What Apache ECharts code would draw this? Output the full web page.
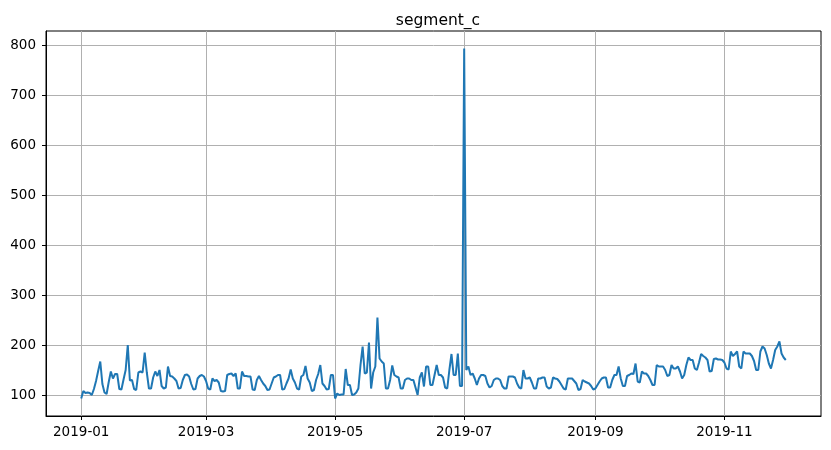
<!DOCTYPE html>
<html>
<head>
<meta charset="utf-8">
<script src="https://cdn.jsdelivr.net/npm/echarts@6/dist/echarts.min.js"></script>
<style>html,body{margin:0;padding:0;background:#fff}#c{width:831px;height:450px}</style>
</head>
<body>
<div id="c"></div>
<script>
// daily values, 2019-01-01 .. 2019-11-30
var jan = [93,108,104,105,104,100,112,128,148,167,122,105,102,126,147,133,142,142,112,111,131,150,200,129,130,112,110,145,147,145,185];
var feb = [145,113,113,135,147,138,150,118,113,115,157,138,137,133,128,113,114,130,140,141,137,122,111,112,133,138,140,137];
var mar = [128,113,111,133,128,130,125,108,107,108,140,142,143,138,143,113,113,147,138,138,137,137,111,110,130,138,130,123,118,110,111];
var apr = [123,135,137,140,140,111,112,123,133,151,133,125,113,111,137,140,158,133,125,108,110,130,142,160,123,118,111,112,140,140];
var may = [93,103,100,101,101,152,120,120,100,101,105,113,160,197,143,145,205,113,145,157,255,173,167,163,113,113,130,159,140,137,135];
var jun = [113,113,130,133,133,130,130,115,100,135,145,117,157,157,120,120,140,160,140,140,135,115,113,150,182,140,140,183,118,118];
var jul = [793,150,157,140,143,133,120,133,140,140,138,123,115,118,130,133,133,130,118,113,113,137,137,137,135,123,115,113,150,133,133];
var aug = [135,125,113,113,133,133,135,135,117,113,115,135,133,132,127,120,113,111,133,133,133,128,123,110,112,130,127,125,123,118,111];
var sep = [113,120,127,133,135,135,115,115,130,140,140,157,133,118,118,138,140,143,142,163,127,125,147,143,143,138,130,120,120,160];
var oct = [157,157,157,150,138,140,160,153,153,157,147,133,140,160,175,170,170,153,150,165,182,178,175,170,147,148,172,173,171,171,170];
var nov = [165,153,151,187,178,182,187,157,153,187,183,183,183,178,168,150,150,187,197,193,180,163,153,170,190,197,207,183,175,170];

var values = [].concat(jan, feb, mar, apr, may, jun, jul, aug, sep, oct, nov);
var xTickLabels = ['2019-01', '2019-03', '2019-05', '2019-07', '2019-09', '2019-11'];
var yTicks = [100, 200, 300, 400, 500, 600, 700, 800];
var titleText = 'segment_c';

var DAY = 86400000;
var start = Date.UTC(2019, 0, 1);
function dayOf(label) {
  var p = label.split('-');
  return Math.round((Date.UTC(+p[0], +p[1] - 1, 1) - start) / DAY);
}
var xTicks = xTickLabels.map(dayOf);
var labelAt = {};
xTickLabels.forEach(function (l, i) { labelAt[xTicks[i]] = l; });

var data = values.map(function (v, i) { return [i, v]; });
var n = values.length - 1;
var xMin = -0.05 * n, xMax = 1.05 * n;
var vmin = Math.min.apply(null, values), vmax = Math.max.apply(null, values);
var yMin = vmin - 0.05 * (vmax - vmin), yMax = vmax + 0.05 * (vmax - vmin);

var font = 'DejaVu Sans';
var chart = echarts.init(document.getElementById('c'), null, {renderer: 'canvas'});
chart.setOption({
  animation: false,
  backgroundColor: '#fff',
  title: {
    text: titleText, left: 433, top: 8, textAlign: 'center',
    textStyle: {fontFamily: font, fontSize: 15.5, fontWeight: 'normal', color: '#000'}
  },
  grid: {left: 46, right: 10, top: 31, bottom: 34, show: true, borderColor: '#000', borderWidth: 1, backgroundColor: 'transparent'},
  xAxis: {
    type: 'value', min: xMin, max: xMax,
    axisLine: {show: true, onZero: false, lineStyle: {color: '#000', width: 1}},
    axisTick: {show: true, length: 4, inside: false, customValues: xTicks, lineStyle: {color: '#000'}},
    axisLabel: {
      customValues: xTicks, margin: 9, color: '#000', fontFamily: font, fontSize: 13.5,
      formatter: function (v) { return labelAt[Math.round(v)] || ''; }
    },
    splitLine: {show: true, lineStyle: {color: '#b0b0b0', width: 1}}
  },
  yAxis: {
    type: 'value', min: yMin, max: yMax,
    axisLine: {show: true, onZero: false, lineStyle: {color: '#000', width: 1}},
    axisTick: {show: true, length: 4, customValues: yTicks, lineStyle: {color: '#000'}},
    axisLabel: {customValues: yTicks, margin: 10, color: '#000', fontFamily: font, fontSize: 13.5},
    splitLine: {show: true, lineStyle: {color: '#b0b0b0', width: 1}}
  },
  series: [{
    type: 'line', data: data, showSymbol: false, symbol: 'none',
    lineStyle: {color: '#1f77b4', width: 2}, itemStyle: {color: '#1f77b4'},
    sampling: null, silent: true
  }]
});
</script>
</body>
</html>
